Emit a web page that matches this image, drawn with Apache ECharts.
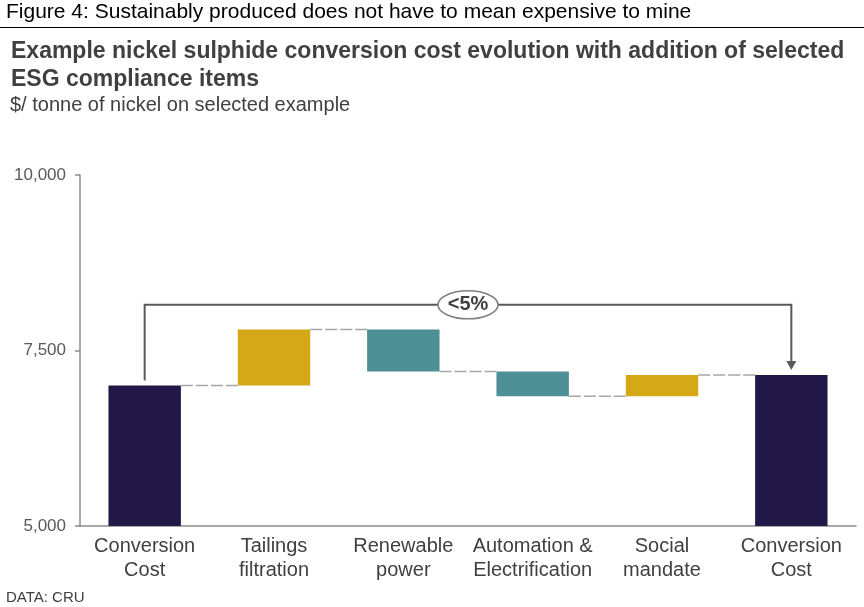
<!DOCTYPE html>
<html><head><meta charset="utf-8">
<script src="https://cdn.jsdelivr.net/npm/echarts@6/dist/echarts.min.js"></script>
<style>html,body{margin:0;padding:0;background:#fff}#c{width:864px;height:607px}</style>
</head><body><div id="c"></div>
<script>
var categories = ['Conversion\nCost', 'Tailings\nfiltration', 'Renewable\npower', 'Automation &\nElectrification', 'Social\nmandate', 'Conversion\nCost'];
var startCost = 7000;
var deltas = [800, -600, -350, 300];
var endCost = 7150;
var yTicks = [5000, 7500, 10000];
var bracketLevel = 8150;
var bracketLabel = '<5%';

var navy = '#211848', gold = '#D4A817', teal = '#4F9097';
var FONT = 'Liberation Sans, Arial, sans-serif';

// build waterfall
var levels = [startCost];
deltas.forEach(function (d) { levels.push(levels[levels.length - 1] + d); });
var baseData = [0], barData = [{value: startCost, itemStyle: {color: navy}}];
var prev = startCost;
deltas.forEach(function (d) {
  var next = prev + d;
  baseData.push(Math.min(prev, next));
  barData.push({value: Math.abs(d), itemStyle: {color: d >= 0 ? gold : teal}});
  prev = next;
});
baseData.push(0);
barData.push({value: endCost, itemStyle: {color: navy}});
levels.push(endCost);
var connectorData = [];
for (var i = 0; i < categories.length - 1; i++) connectorData.push([i, levels[i]]);

var BARW = 0.56;
var chart = echarts.init(document.getElementById('c'), null, {renderer: 'canvas'});
chart.setOption({
  animation: false,
  backgroundColor: '#fff',
  textStyle: {fontFamily: FONT},
  title: [
    {text: 'Figure 4: Sustainably produced does not have to mean expensive to mine', left: 6, top: 2, padding: 0,
     textStyle: {fontSize: 21, fontWeight: 'normal', color: '#000', fontFamily: FONT}},
    {text: 'Example nickel sulphide conversion cost evolution with addition of selected\nESG compliance items', left: 11, top: 38, padding: 0,
     textStyle: {fontSize: 23, fontWeight: 'bold', color: '#404040', lineHeight: 28, fontFamily: FONT}},
    {text: '$/ tonne of nickel on selected example', left: 10, top: 95, padding: 0,
     textStyle: {fontSize: 20, fontWeight: 'normal', color: '#404040', fontFamily: FONT}},
    {text: 'DATA: CRU', left: 6, top: 590, padding: 0,
     textStyle: {fontSize: 15, fontWeight: 'normal', color: '#404040', fontFamily: FONT}}
  ],
  graphic: [
    {type: 'line', shape: {x1: 0, y1: 27.5, x2: 864, y2: 27.5}, style: {stroke: '#000', lineWidth: 1}}
  ],
  grid: {left: 80, right: 8, top: 175, bottom: 81, containLabel: false},
  xAxis: {
    type: 'category', data: categories,
    axisLine: {lineStyle: {color: '#8c8c8c', width: 1.5}},
    axisTick: {show: false},
    axisLabel: {fontSize: 20, color: '#404040', lineHeight: 24, margin: 8, interval: 0, fontFamily: FONT}
  },
  yAxis: {
    type: 'value', min: yTicks[0], max: yTicks[yTicks.length - 1], interval: 2500,
    splitLine: {show: false},
    axisLine: {show: true, lineStyle: {color: '#8c8c8c', width: 1.5}},
    axisTick: {show: true, length: 5, lineStyle: {color: '#8c8c8c', width: 1.5}},
    axisLabel: {fontSize: 17, color: '#595959', margin: 14, fontFamily: FONT,
      formatter: function (v) { return v.toLocaleString('en-US'); }}
  },
  series: [
    {type: 'bar', stack: 'w', data: baseData, itemStyle: {color: 'transparent'}, barWidth: (BARW * 100) + '%', silent: true},
    {type: 'bar', stack: 'w', data: barData, barWidth: (BARW * 100) + '%'},
    {
      type: 'custom', data: connectorData, z: 1,
      renderItem: function (params, api) {
        var i = api.value(0), lvl = api.value(1);
        var bw = api.size([1, 0])[0] * BARW;
        var p1 = api.coord([i, lvl]), p2 = api.coord([i + 1, lvl]);
        return {type: 'line', shape: {x1: p1[0] + bw / 2, y1: p1[1], x2: p2[0] - bw / 2, y2: p2[1]},
          style: {stroke: '#a6a6a6', lineWidth: 1.5, lineDash: [12, 3]}};
      }
    },
    {
      type: 'custom', data: [[0, categories.length - 1, startCost, endCost, bracketLevel]], z: 5,
      renderItem: function (params, api) {
        var a = api.coord([api.value(0), api.value(2)]);
        var b = api.coord([api.value(1), api.value(3)]);
        var yb = api.coord([0, api.value(4)])[1];
        var gap = 5, ah = 9, aw = 5;
        var tipY = b[1] - gap;
        var cx = (a[0] + b[0]) / 2;
        return {type: 'group', children: [
          {type: 'polyline', shape: {points: [[a[0], a[1] - gap], [a[0], yb], [b[0], yb], [b[0], tipY - ah + 1]]},
            style: {stroke: '#595959', lineWidth: 2, fill: null}},
          {type: 'polygon', shape: {points: [[b[0] - aw, tipY - ah], [b[0] + aw, tipY - ah], [b[0], tipY]]},
            style: {fill: '#595959'}},
          {type: 'ellipse', shape: {cx: cx, cy: yb, rx: 30, ry: 14},
            style: {fill: '#fff', stroke: '#7f7f7f', lineWidth: 1.5}},
          {type: 'text', x: cx, y: yb, style: {text: bracketLabel, align: 'center', verticalAlign: 'middle',
            font: 'bold 20px ' + FONT, fill: '#404040'}}
        ]};
      }
    }
  ]
});
</script></body></html>
